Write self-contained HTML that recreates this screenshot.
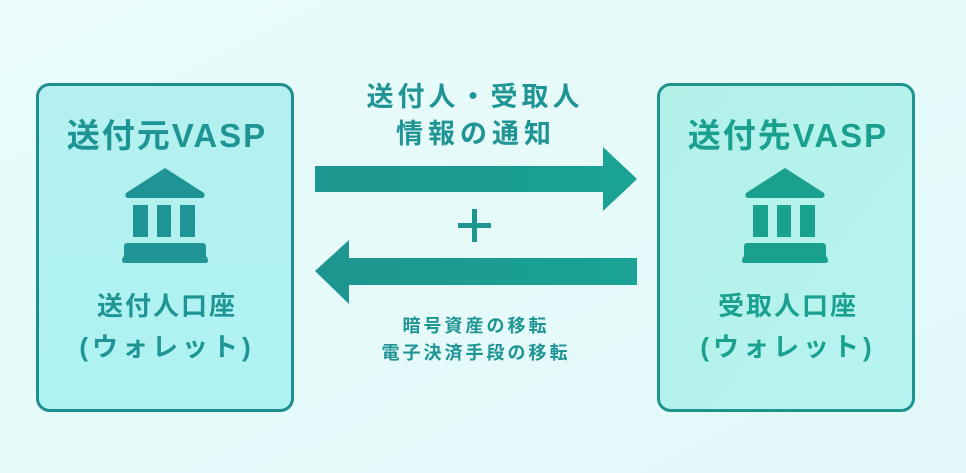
<!DOCTYPE html>
<html><head><meta charset="utf-8"><style>
html,body{margin:0;padding:0;background:#e8fbfb;}
svg{display:block}
text{font-family:"Liberation Sans","Noto Sans CJK JP",sans-serif;font-weight:bold;text-anchor:middle}
</style></head><body>
<svg width="966" height="473" viewBox="0 0 966 473" xmlns="http://www.w3.org/2000/svg">
<defs>
<linearGradient id="bg" x1="0" y1="0" x2="1" y2="1"><stop offset="0" stop-color="#eafcfc"/><stop offset="1" stop-color="#e2f8f8"/></linearGradient>
<linearGradient id="lb" x1="0" y1="0" x2="0" y2="1"><stop offset="0" stop-color="#b4f0ef"/><stop offset="1" stop-color="#aef3f2"/></linearGradient>
<linearGradient id="rb" x1="0" y1="0" x2="1" y2="1"><stop offset="0" stop-color="#b2f0e8"/><stop offset="1" stop-color="#b8f4f1"/></linearGradient>
<linearGradient id="ar" x1="0" y1="0" x2="1" y2="0"><stop offset="0" stop-color="#1d9590"/><stop offset="1" stop-color="#1aa394"/></linearGradient>
</defs>
<rect width="966" height="473" fill="url(#bg)"/>
<rect x="37.5" y="84.5" width="255" height="326" rx="12" fill="url(#lb)" stroke="#1f8e8e" stroke-width="3"/>
<rect x="658.5" y="84.5" width="255" height="326" rx="12" fill="url(#rb)" stroke="#1f948e" stroke-width="3"/>

<g fill="#1f9494">
<text x="167" y="147" font-size="33" letter-spacing="2">送付元VASP</text>
<path d="M165 168 L204 193 Q206 198 201 198 L129 198 Q124 198 126 193 Z"/>
<rect x="133" y="205" width="15" height="32"/><rect x="157" y="205" width="14" height="32"/><rect x="180" y="205" width="15" height="32"/>
<path d="M127 243 H203 Q206 243 206 247 V256 Q208 258 208 261 Q208 263 205 263 H125 Q122 263 122 261 Q122 258 124 256 V247 Q124 243 127 243 Z"/>
<text x="167" y="315" font-size="26" letter-spacing="2">送付人口座</text>
<text x="167" y="356" font-size="26" letter-spacing="4">(ウォレット)</text>
</g>

<g fill="#1aa08f">
<text x="788" y="147" font-size="33" letter-spacing="2">送付先VASP</text>
<path d="M785 168 L824 193 Q826 198 821 198 L749 198 Q744 198 746 193 Z"/>
<rect x="753" y="205" width="15" height="32"/><rect x="777" y="205" width="14" height="32"/><rect x="800" y="205" width="15" height="32"/>
<path d="M747 243 H823 Q826 243 826 247 V256 Q828 258 828 261 Q828 263 825 263 H745 Q742 263 742 261 Q742 258 744 256 V247 Q744 243 747 243 Z"/>
<text x="788" y="315" font-size="26" letter-spacing="2">受取人口座</text>
<text x="788" y="356" font-size="26" letter-spacing="4">(ウォレット)</text>
</g>

<g fill="#1f9494">
<text x="475" y="106" font-size="27" letter-spacing="4">送付人・受取人</text>
<text x="476" y="143" font-size="27" letter-spacing="5">情報の通知</text>
<text x="476" y="332" font-size="18" letter-spacing="3">暗号資産の移転</text>
<text x="476" y="359" font-size="18" letter-spacing="3">電子決済手段の移転</text>
</g>
<path d="M315 166 H603 V147 L637 179 L603 211 V192 H315 Z" fill="url(#ar)"/>
<path d="M637 258 H349 V240 L315 271 L349 304 V285 H637 Z" fill="url(#ar)"/>
<rect x="458" y="223" width="33" height="5" fill="#1d9590"/>
<rect x="472" y="209" width="5" height="33" fill="#1d9590"/>
</svg>
</body></html>
